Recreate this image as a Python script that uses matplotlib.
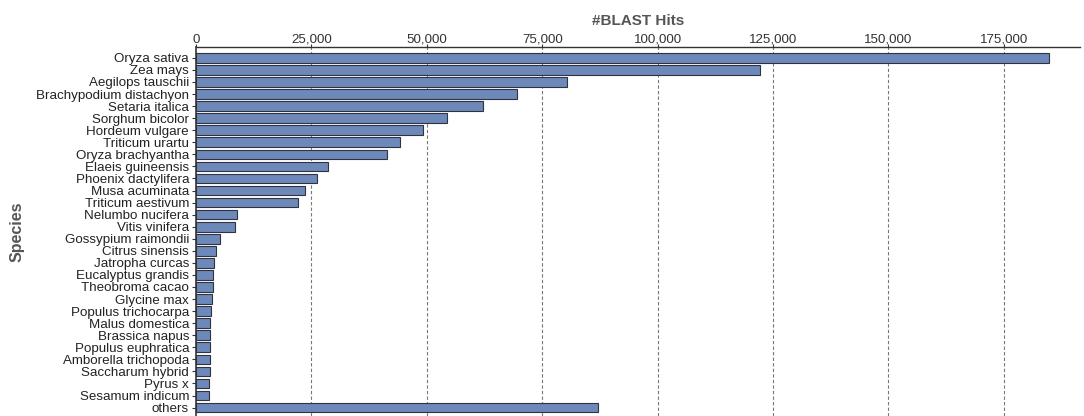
import matplotlib
matplotlib.use("Agg")
import matplotlib.pyplot as plt
from matplotlib.ticker import FuncFormatter, FixedLocator

species = [
    "Oryza sativa", "Zea mays", "Aegilops tauschii", "Brachypodium distachyon",
    "Setaria italica", "Sorghum bicolor", "Hordeum vulgare", "Triticum urartu",
    "Oryza brachyantha", "Elaeis guineensis", "Phoenix dactylifera",
    "Musa acuminata", "Triticum aestivum", "Nelumbo nucifera", "Vitis vinifera",
    "Gossypium raimondii", "Citrus sinensis", "Jatropha curcas",
    "Eucalyptus grandis", "Theobroma cacao", "Glycine max",
    "Populus trichocarpa", "Malus domestica", "Brassica napus",
    "Populus euphratica", "Amborella trichopoda", "Saccharum hybrid",
    "Pyrus x", "Sesamum indicum", "others",
]
hits = [
    184800, 122200, 80400, 69600,
    62100, 54300, 49200, 44100,
    41300, 28600, 26300,
    23700, 22200, 8800, 8450,
    5200, 4350, 3900,
    3700, 3700, 3500,
    3300, 3100, 3100,
    3100, 2950, 2950,
    2800, 2800, 87000,
]
x_ticks = [0, 25000, 50000, 75000, 100000, 125000, 150000, 175000]

plt.rcParams["font.family"] = ["Liberation Sans", "DejaVu Sans"]

fig = plt.figure(figsize=(10.84, 4.16), dpi=100)
ax = fig.add_axes([196 / 1084, 0.0, 884 / 1084, 1 - 47 / 416])

pos = list(range(len(species)))
ax.barh(pos, hits, height=0.8, color="#6d89ba", edgecolor="#2f3440",
        linewidth=0.8, zorder=2)

ax.set_ylim(len(species) - 0.3, -0.9)
ax.set_xlim(0, 191500)

ax.xaxis.set_major_locator(FixedLocator(x_ticks))
ax.xaxis.set_major_formatter(FuncFormatter(lambda v, _: f"{int(v):,}"))
ax.xaxis.tick_top()
ax.xaxis.set_label_position("top")
ax.set_yticks(pos)
ax.set_yticklabels(species)

ax.tick_params(axis="x", direction="out", length=2.5, width=0.8,
               labelsize=9.6, labelcolor="#333333", color="#333333", pad=-1.5)
ax.tick_params(axis="y", direction="out", length=3, width=0.8,
               labelsize=9.6, labelcolor="#222222", color="#333333", pad=2)

for s in ["right", "bottom"]:
    ax.spines[s].set_visible(False)
ax.spines["top"].set_color("#333333")
ax.spines["top"].set_linewidth(1.0)
ax.spines["left"].set_color("#333333")
ax.spines["left"].set_linewidth(1.2)

for v in x_ticks[1:]:
    ax.axvline(v, color="#777777", linestyle=(0, (3, 2)), linewidth=0.8,
               zorder=1)

ax.set_xlabel("#BLAST Hits", fontsize=11, fontweight="bold", color="#555555",
              labelpad=6)
ax.set_ylabel("Species", fontsize=11.5, fontweight="bold", color="#555555")
ax.yaxis.set_label_coords(-0.194, 0.5)

fig.savefig("out.png", dpi=100)
